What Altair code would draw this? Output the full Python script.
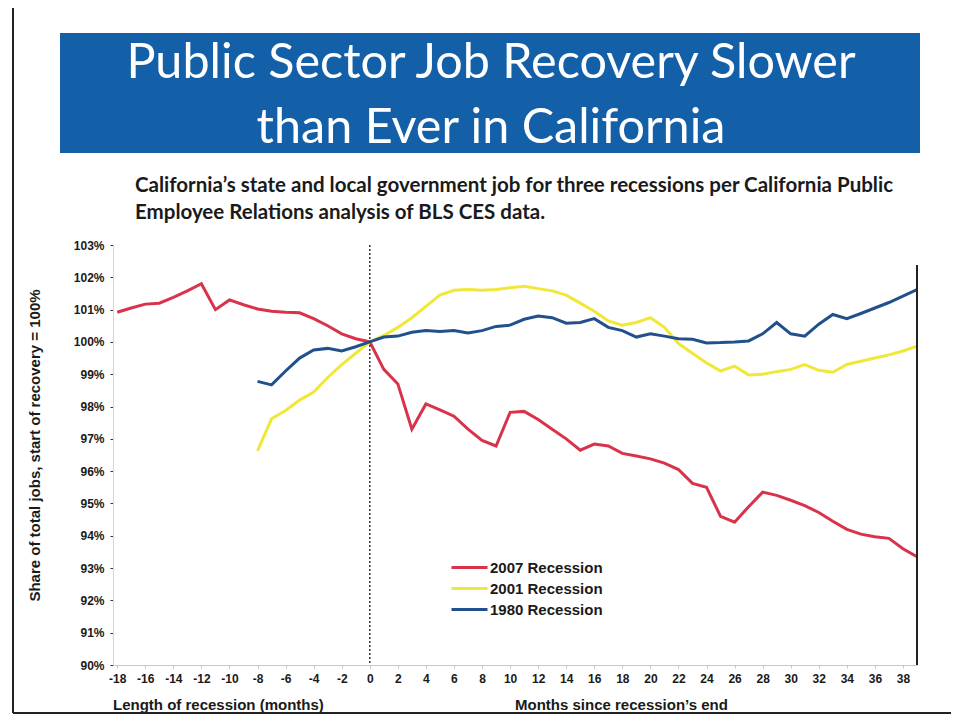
import altair as alt
import pandas as pd

# ---- data ----
months_2007 = list(range(-18, 40))
jobs_2007 = [100.92, 101.05, 101.17, 101.2, 101.38, 101.58, 101.8, 101.0, 101.3, 101.15,
             101.02, 100.95, 100.92, 100.9, 100.72, 100.5, 100.25, 100.1,
             100.0, 99.15, 98.7, 97.3, 98.08, 97.9, 97.7, 97.3, 96.95, 96.78,
             97.82, 97.85, 97.6, 97.3, 97.0, 96.65, 96.84, 96.78, 96.55, 96.47,
             96.38, 96.25, 96.05, 95.62, 95.5, 94.6, 94.42, 94.9, 95.35, 95.25,
             95.1, 94.93, 94.72, 94.45, 94.2, 94.05, 93.97, 93.92, 93.6, 93.35]

months_other = list(range(-8, 40))
jobs_2001 = [96.63, 97.62, 97.88, 98.2, 98.45, 98.9, 99.3, 99.65,
             100.0, 100.2, 100.45, 100.75, 101.1, 101.45, 101.6, 101.62, 101.6, 101.62,
             101.68, 101.72, 101.65, 101.58, 101.45, 101.2, 100.95, 100.65, 100.52, 100.6,
             100.75, 100.45, 99.95, 99.65, 99.35, 99.1, 99.25, 98.98, 99.0, 99.08,
             99.15, 99.3, 99.12, 99.06, 99.3, 99.4, 99.5, 99.6, 99.72, 99.87]
jobs_1980 = [98.78, 98.67, 99.1, 99.5, 99.75, 99.8, 99.72, 99.85,
             100.0, 100.15, 100.18, 100.3, 100.35, 100.32, 100.35, 100.28, 100.35, 100.48,
             100.52, 100.7, 100.8, 100.75, 100.58, 100.6, 100.72, 100.45, 100.35, 100.15,
             100.25, 100.18, 100.1, 100.08, 99.97, 99.98, 100.0, 100.03, 100.25, 100.6,
             100.25, 100.18, 100.55, 100.85, 100.72, 100.88, 101.05, 101.22, 101.42, 101.62]

series_names = ["2007 Recession", "2001 Recession", "1980 Recession"]
series_colors = ["#d8334a", "#f0e838", "#22508c"]
x_ticks = list(range(-18, 39, 2))
y_ticks = list(range(90, 104))
recovery_start = [0]

title_lines = ["Public Sector Job Recovery Slower", "than Ever in California"]
subtitle_lines = ["California\u2019s state and local government job for three recessions per California Public",
                  "Employee Relations analysis of BLS CES data."]
x_title_left = "Length of recession (months)"
x_title_right = "Months since recession\u2019s end"
y_title = "Share of total jobs, start of recovery = 100%"

rows = []
for m, v in zip(months_2007, jobs_2007):
    rows.append({"month": m, "share": v, "series": series_names[0]})
for m, v in zip(months_other, jobs_2001):
    rows.append({"month": m, "share": v, "series": series_names[1]})
for m, v in zip(months_other, jobs_1980):
    rows.append({"month": m, "share": v, "series": series_names[2]})
df = pd.DataFrame(rows)

W, H = 804, 420
one = pd.DataFrame({"k": [0]})
zero_df = pd.DataFrame({"month": recovery_start})

xscale = alt.Scale(domain=[-18.3, 39], nice=False, zero=False)
yscale = alt.Scale(domain=[90, 103], nice=False, zero=False)

x_axis = alt.Axis(values=x_ticks, labelExpr="'' + datum.value", title=None,
                  grid=False, domainColor="#c8c8c8", tickColor="#c8c8c8",
                  tickSize=3, labelFont="Liberation Sans", labelFontWeight="bold",
                  labelFontSize=12, labelColor="#1a1a1a", labelPadding=5,
                  labelFlush=False, labelOverlap=False)

lines = alt.Chart(df).mark_line(strokeWidth=3, clip=True).encode(
    x=alt.X("month:Q", scale=xscale, axis=x_axis),
    y=alt.Y("share:Q", scale=yscale,
            axis=alt.Axis(values=y_ticks, labelExpr="datum.value + '%'", title=y_title,
                          grid=False, domainColor="#d8d8d8", tickColor="#333333",
                          tickSize=3, labelFont="Liberation Sans", labelFontWeight="bold",
                          labelFontSize=12, labelColor="#1a1a1a", labelPadding=6,
                          titleFont="Liberation Sans", titleFontSize=15, titleFontWeight="bold",
                          titleColor="#1a1a1a", titlePadding=31, titleY=200)),
    color=alt.Color("series:N",
                    scale=alt.Scale(domain=series_names, range=series_colors),
                    legend=alt.Legend(orient="none", legendX=346, legendY=312, title=None,
                                      symbolType="M-2,0H2", symbolStrokeWidth=3,
                                      symbolSize=324, labelFont="Liberation Sans",
                                      labelFontWeight="bold", labelFontSize=15,
                                      labelColor="#1a1a1a", rowPadding=2, labelOffset=10)),
    order=alt.Order("month:Q"),
)

zero_rule = alt.Chart(zero_df).mark_rule(color="#333333", strokeDash=[2, 2], strokeWidth=1.5).encode(
    x=alt.X("month:Q", scale=xscale, axis=x_axis), y=alt.value(0), y2=alt.value(H))

right_rule = alt.Chart(one).mark_rule(color="#222222", strokeWidth=2).encode(
    x=alt.value(W), y=alt.value(20), y2=alt.value(H))

banner = alt.Chart(one).mark_rect(color="#1460a8").encode(
    x=alt.value(-53), x2=alt.value(807), y=alt.value(-212), y2=alt.value(-92))

title1 = alt.Chart(one).mark_text(text=title_lines[0], font="Lato", fontSize=48.5, color="white",
                                  align="center", baseline="alphabetic").encode(
    x=alt.value(378), y=alt.value(-167))
title2 = alt.Chart(one).mark_text(text=title_lines[1], font="Lato", fontSize=48.5, color="white",
                                  align="center", baseline="alphabetic").encode(
    x=alt.value(378), y=alt.value(-102))

sub1 = alt.Chart(one).mark_text(text=subtitle_lines[0], font="Lato", fontSize=20.5, fontWeight="bold",
                                color="#1a1a1a", align="left", baseline="alphabetic").encode(
    x=alt.value(22), y=alt.value(-53))
sub2 = alt.Chart(one).mark_text(text=subtitle_lines[1], font="Lato", fontSize=20.5, fontWeight="bold",
                                color="#1a1a1a", align="left", baseline="alphabetic").encode(
    x=alt.value(22), y=alt.value(-26))

xt1 = alt.Chart(one).mark_text(text=x_title_left, font="Liberation Sans", fontSize=15,
                               fontWeight="bold", color="#1a1a1a", align="left",
                               baseline="middle").encode(x=alt.value(0), y=alt.value(460))
xt2 = alt.Chart(one).mark_text(text=x_title_right, font="Liberation Sans", fontSize=15,
                               fontWeight="bold", color="#1a1a1a", align="left",
                               baseline="middle").encode(x=alt.value(402), y=alt.value(460))

frame_top = alt.Chart(one).mark_rule(color="#222222", strokeWidth=2).encode(
    x=alt.value(-100), x2=alt.value(846), y=alt.value(-238))
frame_left = alt.Chart(one).mark_rule(color="#222222", strokeWidth=2).encode(
    x=alt.value(-100), y=alt.value(-238), y2=alt.value(468))
frame_bottom = alt.Chart(one).mark_rule(color="#222222", strokeWidth=2).encode(
    x=alt.value(-100), x2=alt.value(846), y=alt.value(468))

chart = alt.layer(
    banner, title1, title2, sub1, sub2, xt1, xt2, frame_top, frame_left, frame_bottom,
    lines, zero_rule, right_rule,
).properties(
    width=W, height=H,
    autosize=alt.AutoSizeParams(type="none"),
    padding={"left": 105, "top": 237, "right": 34, "bottom": 49},
    background="white",
).configure_view(stroke=None)

chart.save("out.html", embed_options={"renderer": "svg", "actions": False})
